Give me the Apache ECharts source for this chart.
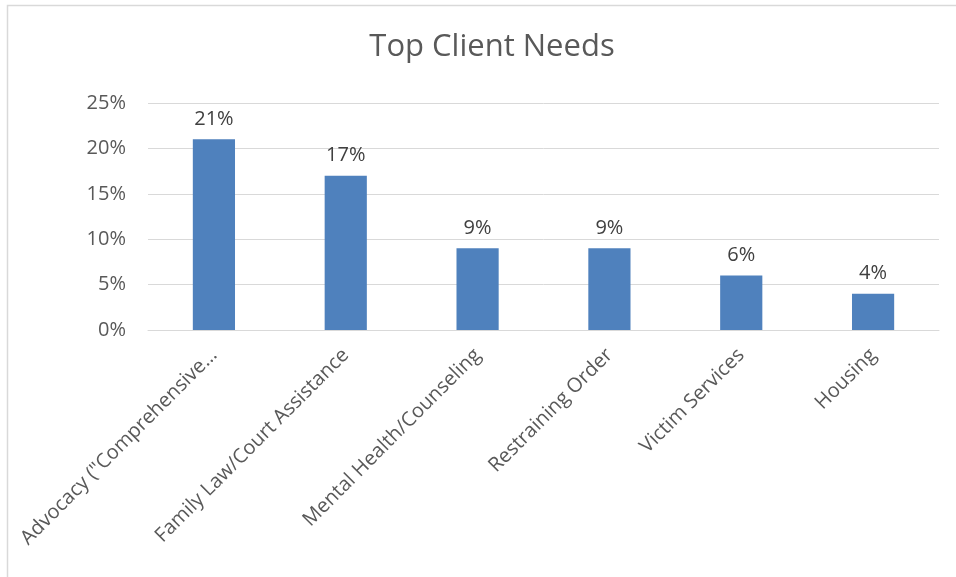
<!DOCTYPE html>
<html>
<head>
<meta charset="utf-8">
<title>Top Client Needs</title>
<script src="https://cdn.jsdelivr.net/npm/echarts@6/dist/echarts.min.js"></script>
<style>
  html, body { margin: 0; padding: 0; background: #ffffff; }
  #chart { width: 956px; height: 577px; }
</style>
</head>
<body>
<div id="chart"></div>
<script>
// Share of clients by type of need (percent)
const categories = [
  'Advocacy ("Comprehensive…',
  'Family Law/Court Assistance',
  'Mental Health/Counseling',
  'Restraining Order',
  'Victim Services',
  'Housing'
];
const needShare = [21, 17, 9, 9, 6, 4];
const yTicks = [0, 5, 10, 15, 20, 25];

const FONT = '"Open Sans", "Liberation Sans", sans-serif';

const chart = echarts.init(document.getElementById('chart'), null, { renderer: 'canvas' });

chart.setOption({
  backgroundColor: '#ffffff',
  animation: false,
  title: {
    text: 'Top Client Needs',
    left: 487,
    textAlign: 'center',
    top: 27,
    textStyle: { fontFamily: FONT, fontSize: 31, fontWeight: 'normal', color: '#595959' }
  },
  graphic: [{
    type: 'rect',
    shape: { x: 7.5, y: 5.5, width: 1000, height: 1000 },
    style: { fill: 'none', stroke: '#d9d9d9', lineWidth: 1.5 },
    silent: true
  }],
  grid: { left: 148, right: 17, top: 103, bottom: 247 },
  xAxis: {
    type: 'category',
    data: categories,
    axisLine: { lineStyle: { color: '#d9d9d9' } },
    axisTick: { show: false },
    axisLabel: {
      rotate: 45,
      interval: 0,
      margin: 22,
      fontFamily: FONT,
      fontSize: 20,
      color: '#595959'
    }
  },
  yAxis: {
    type: 'value',
    min: yTicks[0],
    max: yTicks[yTicks.length - 1],
    interval: yTicks[1] - yTicks[0],
    axisLine: { show: false },
    axisTick: { show: false },
    splitLine: { lineStyle: { color: '#d9d9d9', width: 1 } },
    axisLabel: {
      margin: 22,
      fontFamily: FONT,
      fontSize: 20,
      color: '#595959',
      formatter: v => v + '%'
    }
  },
  series: [{
    type: 'bar',
    data: needShare,
    barWidth: '32%',
    itemStyle: { color: '#4F81BD' },
    label: {
      show: true,
      position: 'top',
      distance: 10,
      fontFamily: FONT,
      fontSize: 20,
      color: '#404040',
      formatter: p => p.value + '%'
    }
  }]
});
</script>
</body>
</html>
